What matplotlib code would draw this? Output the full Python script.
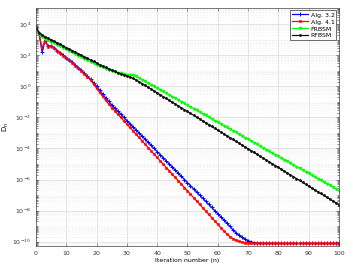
import numpy as np
import matplotlib
matplotlib.use("Agg")
import matplotlib.pyplot as plt
from matplotlib.ticker import LogLocator, FixedLocator, NullFormatter

# iteration numbers and log10(D_n)
iters = list(range(0, 101))

alg32_log = [3.8, 3.42, 2.2, 2.95, 2.58, 2.62, 2.47, 2.3, 2.15, 2.0,
             1.85, 1.7, 1.55, 1.38, 1.2, 1.02, 0.84, 0.65, 0.46, 0.24,
             0.0, -0.25, -0.5, -0.74, -0.97, -1.19, -1.4, -1.6, -1.8, -2.0,
             -2.2, -2.4, -2.6, -2.8, -3.0, -3.2, -3.4, -3.6, -3.8, -4.0,
             -4.2, -4.4, -4.6, -4.8, -5.0, -5.2, -5.4, -5.6, -5.8, -6.0,
             -6.2, -6.4, -6.6, -6.8, -7.0, -7.2, -7.4, -7.6, -7.8, -8.0,
             -8.2, -8.4, -8.6, -8.8, -9.02, -9.23, -9.42, -9.58, -9.72, -9.84,
             -9.94, -10.01, -10.06, -10.09, -10.11, -10.12, -10.12, -10.12, -10.12, -10.12,
             -10.12, -10.12, -10.12, -10.12, -10.12, -10.12, -10.12, -10.12, -10.12, -10.12,
             -10.12, -10.12, -10.12, -10.12, -10.12, -10.12, -10.12, -10.12, -10.12, -10.12,
             -10.12]

alg41_log = [3.8, 3.4, 2.45, 2.95, 2.55, 2.6, 2.45, 2.28, 2.12, 1.97,
             1.82, 1.67, 1.52, 1.34, 1.15, 0.98, 0.81, 0.62, 0.41, 0.15,
             -0.12, -0.39, -0.65, -0.9, -1.14, -1.37, -1.58, -1.79, -2.0, -2.22,
             -2.43, -2.65, -2.86, -3.08, -3.29, -3.51, -3.72, -3.94, -4.15, -4.37,
             -4.58, -4.8, -5.01, -5.23, -5.44, -5.66, -5.87, -6.09, -6.3, -6.52,
             -6.73, -6.95, -7.16, -7.38, -7.59, -7.81, -8.02, -8.24, -8.45, -8.67,
             -8.88, -9.1, -9.31, -9.5, -9.67, -9.8, -9.9, -9.98, -10.03, -10.07,
             -10.09, -10.1, -10.11, -10.12, -10.12, -10.12, -10.12, -10.12, -10.12, -10.12,
             -10.12, -10.12, -10.12, -10.12, -10.12, -10.12, -10.12, -10.12, -10.12, -10.12,
             -10.12, -10.12, -10.12, -10.12, -10.12, -10.12, -10.12, -10.12, -10.12, -10.12,
             -10.12]

frbsm_log = [3.7, 3.35, 3.18, 3.08, 2.98, 2.88, 2.78, 2.68, 2.58, 2.48,
             2.38, 2.28, 2.18, 2.08, 1.98, 1.88, 1.78, 1.68, 1.58, 1.48,
             1.38, 1.3, 1.22, 1.14, 1.07, 1.0, 0.94, 0.88, 0.83, 0.79,
             0.76, 0.73, 0.7, 0.65, 0.55, 0.44, 0.33, 0.22, 0.11, 0.0,
             -0.11, -0.22, -0.33, -0.44, -0.55, -0.66, -0.77, -0.88, -0.99, -1.1,
             -1.21, -1.32, -1.43, -1.54, -1.65, -1.76, -1.87, -1.98, -2.09, -2.2,
             -2.31, -2.42, -2.53, -2.64, -2.75, -2.86, -2.97, -3.08, -3.19, -3.3,
             -3.41, -3.52, -3.63, -3.74, -3.85, -3.96, -4.07, -4.18, -4.29, -4.4,
             -4.51, -4.62, -4.73, -4.84, -4.95, -5.06, -5.17, -5.28, -5.39, -5.5,
             -5.61, -5.72, -5.83, -5.94, -6.05, -6.16, -6.27, -6.38, -6.49, -6.6,
             -6.71]

rfbsm_log = [3.75, 3.45, 3.32, 3.2, 3.1, 3.0, 2.9, 2.8, 2.7, 2.6,
             2.5, 2.4, 2.3, 2.2, 2.1, 2.0, 1.9, 1.8, 1.7, 1.6,
             1.5, 1.4, 1.31, 1.22, 1.13, 1.04, 0.96, 0.88, 0.8, 0.73,
             0.66, 0.59, 0.52, 0.42, 0.3, 0.18, 0.06, -0.06, -0.18, -0.3,
             -0.42, -0.54, -0.66, -0.78, -0.9, -1.02, -1.14, -1.26, -1.38, -1.5,
             -1.62, -1.74, -1.86, -1.98, -2.1, -2.22, -2.34, -2.46, -2.58, -2.7,
             -2.82, -2.94, -3.06, -3.18, -3.3, -3.42, -3.54, -3.66, -3.78, -3.9,
             -4.02, -4.14, -4.26, -4.38, -4.5, -4.62, -4.74, -4.86, -4.98, -5.1,
             -5.22, -5.34, -5.46, -5.58, -5.7, -5.82, -5.94, -6.06, -6.18, -6.3,
             -6.42, -6.54, -6.66, -6.78, -6.9, -7.02, -7.14, -7.26, -7.38, -7.5,
             -7.62]

labels = ["Alg. 3.2", "Alg. 4.1", "FRBSM", "RFBSM"]
x_ticks = [0, 10, 20, 30, 40, 50, 60, 70, 80, 90, 100]
y_tick_exps = [-10, -8, -6, -4, -2, 0, 2, 4]

fig = plt.figure(figsize=(3.53, 2.73), dpi=100)
ax = fig.add_axes([0.102, 0.099, 0.858, 0.872])

ax.semilogy(iters, 10.0 ** np.array(alg32_log), color="#0000ff", lw=0.9,
            marker="+", ms=2.5, mew=0.7, label=labels[0])
ax.semilogy(iters, 10.0 ** np.array(alg41_log), color="#ff0000", lw=0.9,
            marker="s", ms=1.6, mew=0.4, label=labels[1])
ax.semilogy(iters, 10.0 ** np.array(frbsm_log), color="#00ff00", lw=0.9,
            marker="v", ms=2.1, mew=0.4, label=labels[2])
ax.semilogy(iters, 10.0 ** np.array(rfbsm_log), color="#111111", lw=0.9,
            marker=".", ms=2.0, label=labels[3])

ax.set_xlim(0, 100)
ax.set_ylim(10 ** -10.28, 10 ** 5.05)
ax.set_xticks(x_ticks)
ax.set_xticklabels([str(t) for t in x_ticks])
ax.yaxis.set_major_locator(FixedLocator([10.0 ** e for e in y_tick_exps]))
ax.set_yticklabels(["$10^{%d}$" % e for e in y_tick_exps])
ax.yaxis.set_minor_locator(LogLocator(base=10, subs=np.arange(1, 10), numticks=40))
ax.yaxis.set_minor_formatter(NullFormatter())

ax.tick_params(which="both", direction="in", top=True, right=True,
               labelsize=4.5, colors="#333333", width=0.4)
ax.tick_params(which="major", length=2.5)
ax.tick_params(which="minor", length=1.2)

ax.grid(True, which="major", color="#d9d9d9", lw=0.5)
ax.grid(True, which="minor", axis="y", color="#e6e6e6", lw=0.4, ls=":")
for s in ax.spines.values():
    s.set_linewidth(0.5)
    s.set_color("#444444")

ax.set_xlabel("Iteration number (n)", fontsize=4.5, labelpad=1.5)
ax.set_ylabel("D$_n$", fontsize=5, labelpad=1)

leg = ax.legend(loc="upper right", fontsize=4.5, fancybox=False, framealpha=1,
                edgecolor="#333333", handlelength=2.6, borderpad=0.3,
                labelspacing=0.25, handletextpad=0.4, borderaxespad=0.4)
leg.get_frame().set_linewidth(0.5)

fig.savefig("out.png", dpi=100)
